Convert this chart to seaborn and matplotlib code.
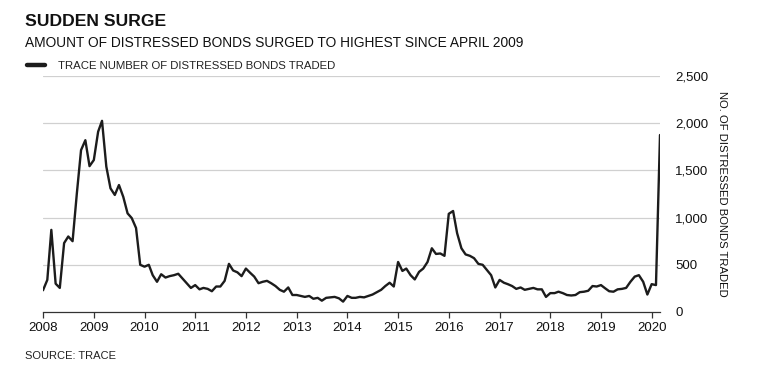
import pandas as pd
import numpy as np

import matplotlib
matplotlib.use("Agg")
import matplotlib.pyplot as plt
import seaborn as sns

# monthly TRACE count of distressed bonds traded, Jan 2008 - Mar 2020
y2008 = [230, 340, 870, 300, 255, 730, 800, 750, 1260, 1715, 1820, 1545]
y2009 = [1610, 1910, 2025, 1540, 1310, 1240, 1345, 1220, 1045, 995, 890, 500]
y2010 = [480, 500, 390, 320, 400, 365, 380, 390, 405, 355, 305, 255]
y2011 = [285, 240, 255, 245, 220, 270, 270, 330, 510, 440, 420, 380]
y2012 = [460, 415, 375, 305, 320, 330, 305, 275, 235, 215, 260, 180]
y2013 = [180, 170, 160, 170, 140, 150, 120, 150, 155, 160, 145, 110]
y2014 = [170, 150, 150, 160, 155, 170, 185, 210, 235, 275, 310, 270]
y2015 = [530, 435, 460, 390, 345, 425, 460, 530, 675, 615, 620, 595]
y2016 = [1040, 1070, 835, 675, 610, 595, 570, 510, 500, 445, 390, 260]
y2017 = [340, 310, 295, 275, 245, 260, 235, 245, 255, 240, 240, 160]
y2018 = [200, 200, 215, 200, 180, 175, 180, 210, 215, 225, 275, 270]
y2019 = [285, 250, 220, 215, 240, 245, 255, 320, 375, 390, 320, 185]
y2020 = [295, 285, 1875]

values = y2008 + y2009 + y2010 + y2011 + y2012 + y2013 + y2014 + \
    y2015 + y2016 + y2017 + y2018 + y2019 + y2020
dates = pd.date_range("2008-01-01", periods=len(values), freq="MS")

years = list(range(2008, 2021))
yticks = [0, 500, 1000, 1500, 2000, 2500]

df = pd.DataFrame({"date": dates, "bonds": values})

sns.set_style("white")
plt.rcParams['font.family'] = ['Liberation Sans', 'DejaVu Sans']

fig = plt.figure(figsize=(7.58, 3.78), dpi=100)
ax = fig.add_axes([43 / 758, 1 - 312 / 378, 617 / 758, 236 / 378])

sns.lineplot(data=df, x="date", y="bonds", ax=ax, color="#1c1c1c",
             linewidth=1.7, label="TRACE NUMBER OF DISTRESSED BONDS TRADED")

ax.set_xlim(pd.Timestamp("2008-01-01"), pd.Timestamp("2020-03-01"))
ax.set_ylim(0, 2500)

ax.set_xticks([pd.Timestamp(f"{y}-01-01") for y in years])
ax.set_xticklabels([str(y) for y in years], fontsize=9.5, color="#111111")
ax.set_yticks(yticks)
ax.set_yticklabels([f"{v:,}" for v in yticks], fontsize=9.5, color="#111111")
ax.yaxis.tick_right()
ax.yaxis.set_label_position("right")
ax.tick_params(axis="y", length=0, pad=11)
ax.tick_params(axis="x", length=4.5, width=0.9, color="#333333", pad=3,
               direction="out", bottom=True)

for v in yticks[1:]:
    ax.axhline(v, color="#d0d0d0", linewidth=0.9, zorder=0)

for s in ["top", "left", "right"]:
    ax.spines[s].set_visible(False)
ax.spines["bottom"].set_color("#333333")
ax.spines["bottom"].set_linewidth(0.9)

ax.set_xlabel("")
ax.set_ylabel("NO. OF DISTRESSED BONDS TRADED", fontsize=8.1, rotation=-90,
              labelpad=6, color="#111111", va="bottom")

leg = ax.legend(loc="center left", bbox_to_anchor=(27 / 758, 1 - 66 / 378),
                bbox_transform=fig.transFigure, frameon=False, fontsize=8.2,
                handlelength=1.6, handletextpad=1.1, borderaxespad=0,
                borderpad=0)
leg.get_lines()[0].set_linewidth(3.2)
for t in leg.get_texts():
    t.set_color("#222222")

fig.text(25 / 758, 1 - 21 / 378, "SUDDEN SURGE", fontsize=12.6,
         fontweight="bold", va="center", ha="left", color="#111111")
fig.text(25 / 758, 1 - 43 / 378,
         "AMOUNT OF DISTRESSED BONDS SURGED TO HIGHEST SINCE APRIL 2009",
         fontsize=9.9, va="center", ha="left", color="#111111")
fig.text(25 / 758, 1 - 356 / 378, "SOURCE: TRACE", fontsize=8,
         va="center", ha="left", color="#222222")

plt.savefig("out.png", dpi=100)
